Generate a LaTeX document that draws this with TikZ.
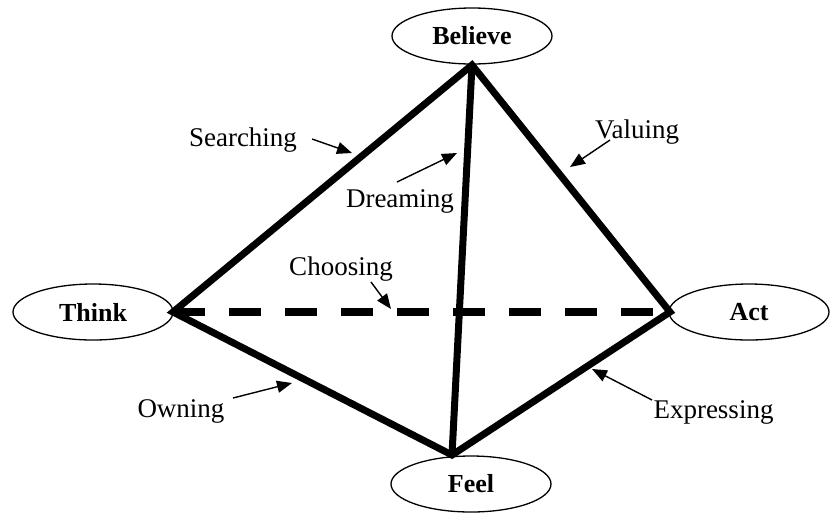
\documentclass[tikz,border=0pt]{standalone}
\usepackage{fontspec}
\setmainfont{Liberation Serif}
\usetikzlibrary{shapes.geometric,arrows.meta}
\begin{document}
\begin{tikzpicture}[x=1pt,y=-1pt,
  vertex/.style={draw,ellipse,line width=1.3pt,minimum width=160pt,minimum height=56pt,inner sep=0pt,
    font=\fontsize{26}{30}\selectfont\bfseries},
  edge/.style={line width=7pt,line join=miter},
  dashedge/.style={line width=8pt,dash pattern=on 32pt off 24pt},
  lbl/.style={anchor=base,inner sep=0pt,font=\fontsize{27}{30}\selectfont},
  pointer/.style={line width=1.4pt,-{Triangle[length=15pt,width=12pt]}}]
\useasboundingbox (0,0) rectangle (834,512);
\node[vertex] (B) at (472,36) {Believe};
\node[vertex] (T) at (93,312) {Think};
\node[vertex] (A) at (749,312) {Act};
\node[vertex] (F) at (471,484) {Feel};
\coordinate (bv) at (472,65);
\coordinate (tv) at (173,312);
\coordinate (av) at (670,312);
\coordinate (fv) at (452,455);
\draw[dashedge] (tv) -- (av);
\draw[edge] (tv) -- (bv) -- (av) -- (fv) -- cycle;
\draw[edge] (bv) -- (fv);
% labels
\node[lbl] (s) at (243,146) {Searching};
\node[lbl] (d) at (400,207) {Dreaming};
\node[lbl] (v) at (637,138) {Valuing};
\node[lbl] (c) at (341,275) {Choosing};
\node[lbl] (o) at (181,417) {Owning};
\node[lbl] (e) at (713.5,418) {Expressing};
% arrow ends
\coordinate (s1) at (312,139); \coordinate (s2) at (352,153);
\coordinate (d1) at (397,182); \coordinate (d2) at (457,153);
\coordinate (v1) at (610,140); \coordinate (v2) at (570,167);
\coordinate (c1) at (371,282); \coordinate (c2) at (391,309);
\coordinate (o1) at (233,398); \coordinate (o2) at (292,383);
\coordinate (e1) at (652,400); \coordinate (e2) at (592,369);
\draw[pointer] (s1) -- (s2);
\draw[pointer] (d1) -- (d2);
\draw[pointer] (v1) -- (v2);
\draw[pointer] (c1) -- (c2);
\draw[pointer] (o1) -- (o2);
\draw[pointer] (e1) -- (e2);
\end{tikzpicture}
\end{document}
